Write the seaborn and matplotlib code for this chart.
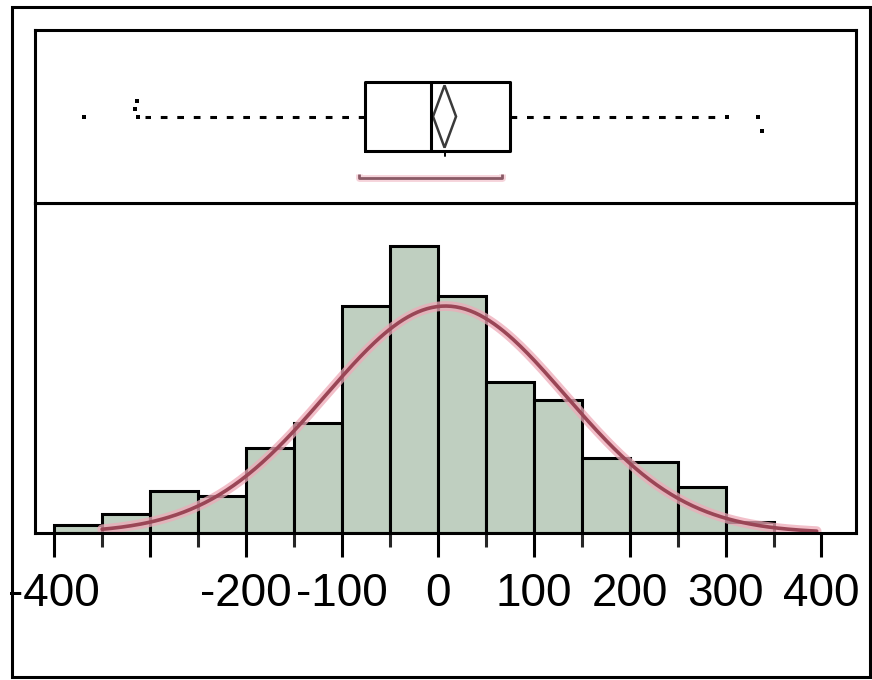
import numpy as np
import matplotlib
matplotlib.use("Agg")
import matplotlib.pyplot as plt
from matplotlib.patches import Rectangle, Polygon
import seaborn as sns

# ---- histogram (bin left edges, width 50) and bar heights ----
bin_left = [-400, -350, -300, -250, -200, -150, -100, -50, 0, 50, 100, 150, 200, 250, 300]
bin_width = 50
bar_heights = [0.85, 2.0, 4.4, 3.9, 9.0, 11.6, 23.9, 30.2, 25.0, 15.9, 14.0, 7.9, 7.5, 4.8, 1.15]

# ---- fitted normal curve ----
fit_mean = 8.0
fit_sd = 125.0
fit_peak = 23.9
curve_range = [-350, 395]

# ---- outlier box plot summary ----
q1, median, q3 = -76.0, -7.0, 75.0
whisker_low, whisker_high = -305.0, 290.0
mean_value = 7.0
mean_ci = [-5.0, 19.0]
shortest_half = [-82.0, 67.0]
outliers = [-369.0, -313.0, -316.0, -314.0, 301.0, 334.0, 338.0]
outlier_offsets = [0.0, 0.0, 0.09, 0.18, 0.0, 0.0, -0.17]

# ---- axis ticks ----
major_ticks = [-400, -300, -200, -100, 0, 100, 200, 300, 400]
major_labels = ["-400", "", "-200", "-100", "0", "100", "200", "300", "400"]
minor_ticks = [-350, -250, -150, -50, 50, 150, 250, 350]

W, H = 872, 680
sns.set_style("white")
plt.rcParams["font.family"] = ["Liberation Sans", "DejaVu Sans"]

bar_color = "#bfcfc0"
curve_core = "#9a4656"
curve_halo = "#eeaab8"
lw = 2.2

fig = plt.figure(figsize=(W / 100, H / 100), dpi=100)
fig.patch.set_facecolor("white")


def px_axes(left, top, right, bottom):
    return fig.add_axes([left / W, 1 - bottom / H, (right - left) / W, (bottom - top) / H])


xlim = (-420, 436)

# ---------------- histogram panel ----------------
ax_h = px_axes(35, 203, 856, 533)
centers = [b + bin_width / 2 for b in bin_left]
edges = bin_left + [bin_left[-1] + bin_width]
sns.histplot(x=centers, weights=bar_heights, bins=edges, ax=ax_h,
             color=bar_color, alpha=1.0, edgecolor="black", linewidth=lw)

xs = np.linspace(curve_range[0], curve_range[1], 300)
ys = fit_peak * np.exp(-0.5 * ((xs - fit_mean) / fit_sd) ** 2)
sns.lineplot(x=xs, y=ys, ax=ax_h, color=curve_halo, linewidth=7, alpha=0.75)
sns.lineplot(x=xs, y=ys, ax=ax_h, color=curve_core, linewidth=2.6)

ax_h.set_xlim(*xlim)
ax_h.set_ylim(0, 34.75)
ax_h.set_yticks([])
ax_h.set_ylabel("")
ax_h.set_xticks(major_ticks)
ax_h.set_xticklabels(major_labels)
ax_h.set_xticks(minor_ticks, minor=True)
ax_h.tick_params(axis="x", which="major", direction="out", length=17, width=lw,
                 pad=11, labelsize=33, colors="black", bottom=True)
ax_h.tick_params(axis="x", which="minor", direction="out", length=10, width=lw,
                 bottom=True)
for s in ax_h.spines.values():
    s.set_visible(True)
    s.set_color("black")
    s.set_linewidth(lw)

# ---------------- box plot panel ----------------
ax_b = px_axes(35, 30, 856, 203)
ax_b.set_xlim(*xlim)
ax_b.set_ylim(-1, 1)
stats = [dict(q1=q1, med=median, q3=q3, whislo=whisker_low, whishi=whisker_high, fliers=[])]
parts = ax_b.bxp(stats, positions=[0.0], widths=0.79, orientation="horizontal",
                 showcaps=False, showfliers=False,
                 boxprops=dict(color="black", linewidth=lw),
                 medianprops=dict(color="black", linewidth=lw),
                 whiskerprops=dict(color="black", linewidth=lw))
for whisker in parts["whiskers"]:
    whisker.set_dashes([2.2, 3.2])  # dash / gap in multiples of the line width

# mean diamond spanning the confidence interval of the mean
half_h = 0.36
ax_b.add_patch(Polygon([(mean_ci[0], 0), (mean_value, half_h), (mean_ci[1], 0),
                        (mean_value, -half_h)], closed=True, fill=False,
                       edgecolor="#3a3a3a", linewidth=1.8))
ax_b.plot([mean_value, mean_value], [-0.395, -0.46], color="black", linewidth=1.4)

# outliers
ax_b.scatter(outliers, outlier_offsets, marker="s", s=10, color="black", linewidths=0)

# shortest half bracket
bx = [shortest_half[0], shortest_half[0], shortest_half[1], shortest_half[1]]
by = [-0.66, -0.71, -0.71, -0.66]
ax_b.plot(bx, by, color=curve_halo, linewidth=5, alpha=0.5, solid_capstyle="butt")
ax_b.plot(bx, by, color="#8a5a66", linewidth=2.0, solid_capstyle="butt")

ax_b.set_xticks([])
ax_b.set_yticks([])
for s in ax_b.spines.values():
    s.set_visible(True)
    s.set_color("black")
    s.set_linewidth(lw)

# outer frame around the whole report
fig.add_artist(Rectangle((12 / W, 1 - 677 / H), (870 - 12) / W, (677 - 7) / H,
                         transform=fig.transFigure, fill=False,
                         edgecolor="black", linewidth=lw))

fig.savefig("out.png", dpi=100, facecolor="white")
